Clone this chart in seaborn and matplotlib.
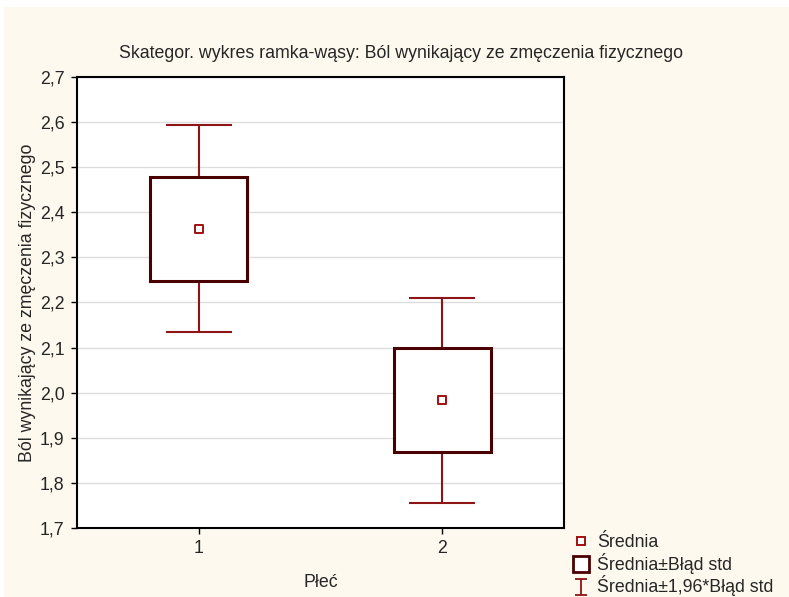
import numpy as np
import pandas as pd
import matplotlib.pyplot as plt
import seaborn as sns
from matplotlib.lines import Line2D
from matplotlib.patches import Rectangle
from matplotlib.path import Path

# dane
plec = [1, 2]
srednia = [2.363, 1.983]
blad_dol = [2.247, 1.868]      # srednia - blad std
blad_gora = [2.479, 2.098]     # srednia + blad std
wasy_dol = [2.134, 1.755]      # srednia - 1,96*blad std
wasy_gora = [2.593, 2.211]     # srednia + 1,96*blad std

df = pd.DataFrame({"plec": plec, "srednia": srednia})

sns.set_style("white")
plt.rcParams['font.family'] = ['Liberation Sans', 'DejaVu Sans']

tlo = '#FDF9EE'
kolor_ramki = '#4A0000'
kolor_wasow = '#8E1515'
fs = 12.8

fig = plt.figure(figsize=(7.89, 5.97), dpi=100, facecolor='white')
fig.patches.append(Rectangle((0.005, 0), 0.995, 0.988, transform=fig.transFigure,
                             facecolor=tlo, edgecolor='none', zorder=-10))
ax = fig.add_axes([0.0976, 0.1156, 0.6172, 0.7554])
ax.set_facecolor('white')

# wąsy (srednia +/- 1,96*blad std)
sr = np.array(srednia)
ax.errorbar(plec, srednia, yerr=[sr - np.array(wasy_dol), np.array(wasy_gora) - sr],
            fmt='none', ecolor=kolor_wasow, elinewidth=1.5, capsize=24,
            capthick=1.5, zorder=2)

# ramki (srednia +/- blad std)
ax.bar(plec, np.array(blad_gora) - np.array(blad_dol), bottom=blad_dol, width=0.4,
       facecolor='white', edgecolor=kolor_ramki, linewidth=2.2, zorder=3)

# srednie
sns.scatterplot(data=df, x="plec", y="srednia", marker='s', s=30, color='white',
                edgecolor='#A01010', linewidth=1.4, zorder=4, ax=ax, legend=False)

ax.set_xlim(0.5, 2.5)
ax.set_ylim(1.7, 2.7)
ax.set_xticks(plec)
ax.set_xticklabels([str(p) for p in plec])
yt = np.round(np.arange(1.7, 2.71, 0.1), 1)
ax.set_yticks(yt)
ax.set_yticklabels([f"{v:.1f}".replace('.', ',') for v in yt])
ax.yaxis.grid(True, color='#DDDDDD', linewidth=1)
ax.set_axisbelow(True)
ax.tick_params(axis='both', direction='out', length=4, width=1, color='black',
               labelsize=fs, left=True, bottom=True, pad=5)
for s in ax.spines.values():
    s.set_color('black')
    s.set_linewidth(1.5)

ax.set_xlabel("Płeć", fontsize=fs, labelpad=12)
ax.set_ylabel("Ból wynikający ze zmęczenia fizycznego", fontsize=fs, labelpad=3)
fig.text(0.508, 0.911, "Skategor. wykres ramka-wąsy: Ból wynikający ze zmęczenia fizycznego",
         ha='center', va='center', fontsize=fs)

# znacznik w kształcie litery I do legendy
znak_i = Path([(-0.75, -1), (0.75, -1), (0, -1), (0, 1), (-0.75, 1), (0.75, 1)],
              [Path.MOVETO, Path.LINETO, Path.MOVETO, Path.LINETO, Path.MOVETO, Path.LINETO])

uchwyty = [
    Line2D([], [], linestyle='none', marker='s', markersize=6, markerfacecolor='white',
           markeredgecolor='#A01010', markeredgewidth=1.4),
    Line2D([], [], linestyle='none', marker='s', markersize=11, markerfacecolor='white',
           markeredgecolor=kolor_ramki, markeredgewidth=2),
    Line2D([], [], linestyle='none', marker=znak_i, markersize=12, markerfacecolor='none',
           markeredgecolor=kolor_wasow, markeredgewidth=1.3),
]
fig.legend(uchwyty, ["Średnia", "Średnia±Błąd std", "Średnia±1,96*Błąd std"],
           loc='lower left', bbox_to_anchor=(0.716, -0.011), frameon=False, fontsize=fs,
           handlelength=1.0, handleheight=0.5, handletextpad=0.4, labelspacing=0.1,
           borderaxespad=0.2, borderpad=0.2)

fig.savefig("out.png", dpi=100, facecolor=fig.get_facecolor())
